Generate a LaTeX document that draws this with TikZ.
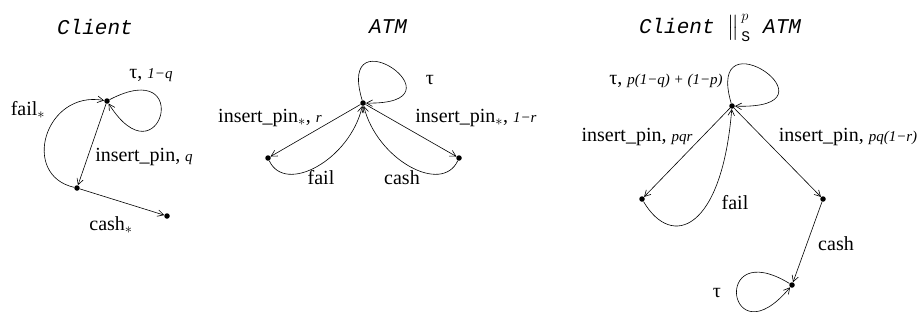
\documentclass[tikz,border=0pt]{standalone}
\usepackage{amsmath,amssymb}
\usepackage{fontspec}
\setmainfont{Liberation Serif}
\setmonofont{Liberation Mono}
\usepackage{tikz}
\usetikzlibrary{positioning,arrows.meta}
\newcommand{\pv}[1]{{\fontsize{15}{18}\selectfont\itshape #1}}
\tikzset{
  state/.style={circle,fill=black,inner sep=0pt,minimum size=5.5pt},
  edge/.style={-{Straight Barb[length=6pt,width=6.5pt]},line width=0.6pt},
  lbl/.style={font=\fontsize{20}{24}\selectfont,inner sep=1pt},
  ttl/.style={font=\fontsize{21}{24}\selectfont\ttfamily\itshape,inner sep=1pt},
}
\begin{document}
\begin{tikzpicture}[x=1pt,y=-1pt]
\useasboundingbox (0,0) rectangle (920,322);
% Client
\node[ttl] (tc) at (95,27) {Client};
\node[state] (c0) at (107,101) {};
\node[state] (c1) at (77,188) {};
\node[state] (c2) at (167,216) {};
\draw[edge] (c0) .. controls +(88,-46) and +(53,84) .. (c0);
\draw[edge] (c1) .. controls (20,175) and (45,90) .. (c0);
\draw[edge] (c0) -- (c1); \draw[edge] (c1) -- (c2);
\node[lbl] (lc0) at (151,75) {τ, \pv{1−q}};
\node[lbl] (lc1) at (28,110) {fail$_*$};
\node[lbl] (lc2) at (144,157) {insert\_pin, \pv{q}};
\node[lbl] (lc3) at (111,225) {cash$_*$};
% ATM
\node[ttl] (ta) at (388,27) {ATM};
\node[state] (a0) at (363,103) {};
\node[state] (a1) at (268,158) {};
\node[state] (a2) at (459,158) {};
\draw[edge] (a0) .. controls +(-28,-93) and +(107,2) .. (a0);
\draw[edge] (a0) -- (a1); \draw[edge] (a0) -- (a2);
\draw[edge] (a1) .. controls (285,195) and (350,160) .. (a0);
\draw[edge] (a2) .. controls (442,195) and (377,160) .. (a0);
\node[lbl] (la0) at (430,80) {τ};
\node[lbl] (la1) at (270,118) {insert\_pin$_*$, \pv{r}};
\node[lbl] (la2) at (476,118) {insert\_pin$_*$, \pv{1−r}};
\node[lbl] (la3) at (321,178) {fail};
\node[lbl] (la4) at (402,178) {cash};
% Client ||_S^p ATM
\node[ttl] (tp) at (720,28)
  {Client $\big\|^{\,p}_{\,\text{\upshape\ttfamily S}}$ ATM};
\node[state] (p0) at (732,106) {};
\node[state] (p1) at (642,199) {};
\node[state] (p2) at (823,199) {};
\node[state] (p3) at (792,285) {};
\draw[edge] (p0) .. controls +(-28,-95) and +(115,4) .. (p0);
\draw[edge] (p0) -- (p1); \draw[edge] (p0) -- (p2);
\draw[edge] (p1) .. controls (672,250) and (722,230) .. (p0);
\draw[edge] (p2) -- (p3);
\draw[edge] (p3) .. controls +(-82,-50) and +(-64,77) .. (p3);
\node[lbl] (lp0) at (666,81) {τ, \pv{p(1−q) + (1−p)}};
\node[lbl] (lp1) at (637,137) {insert\_pin, \pv{pqr}};
\node[lbl] (lp2) at (848,137) {insert\_pin, \pv{pq(1−r)}};
\node[lbl] (lp3) at (735,203) {fail};
\node[lbl] (lp4) at (836,244) {cash};
\node[lbl] (lp5) at (717,293) {τ};
\end{tikzpicture}
\end{document}
